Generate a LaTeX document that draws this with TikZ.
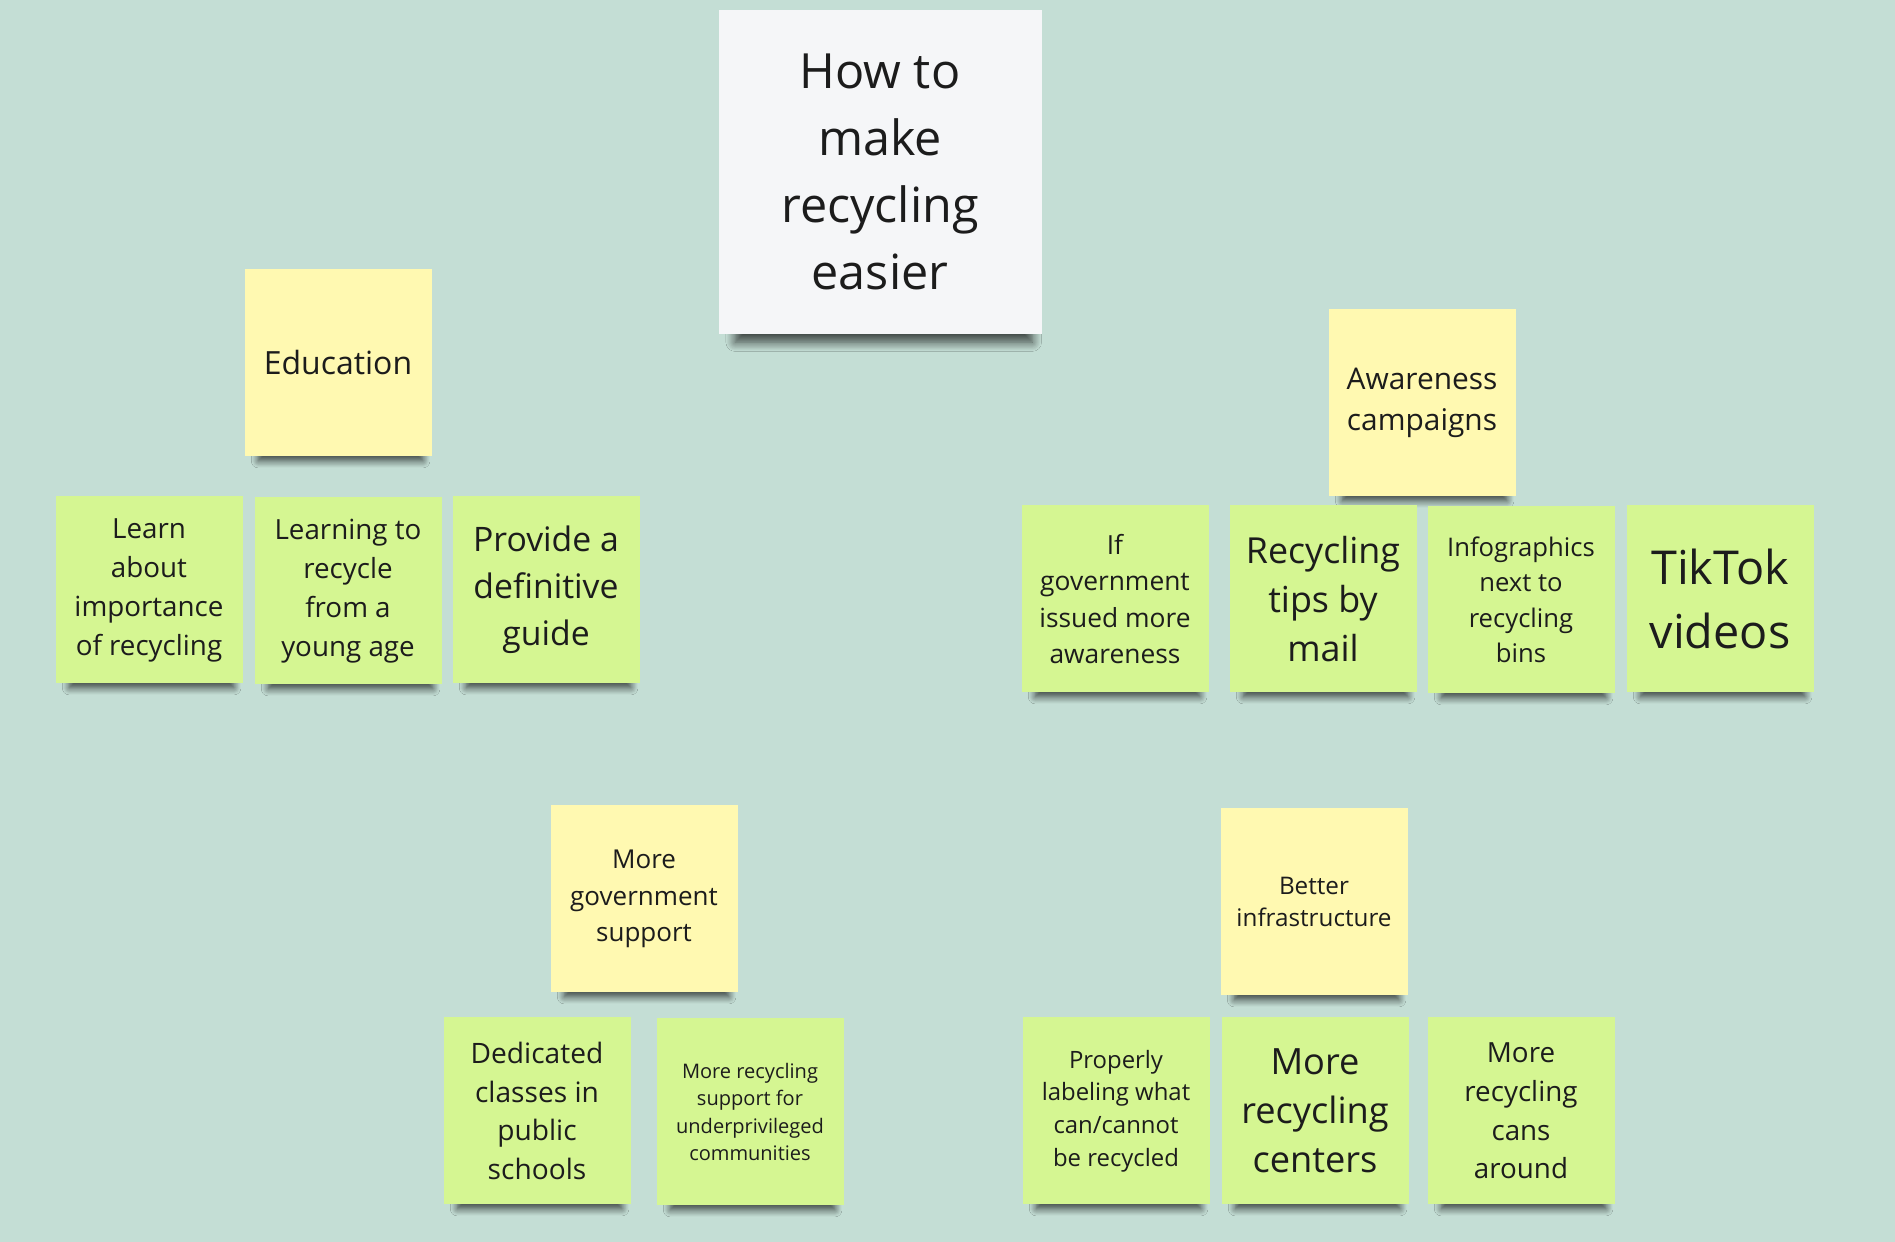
\documentclass[tikz,border=0pt]{standalone}
\usepackage{fontspec}
\setmainfont{Open Sans}
\usepackage{tikz}
\usetikzlibrary{shadows.blur}
\usepackage{xcolor}
\definecolor{bg}{HTML}{C4DED5}
\definecolor{paper}{HTML}{F5F6F8}
\definecolor{Y0}{HTML}{FFF9B1}
\definecolor{G0}{HTML}{D5F692}
\definecolor{ink}{HTML}{1C1C1C}
\newcommand{\notefont}[2]{\fontsize{#1}{#2}\selectfont}

\begin{document}
\begin{tikzpicture}

\def\side{1.87cm}
\tikzset{
note/.style = {minimum width=\side, minimum height=\side, inner sep=0pt, align=center, text=ink},
smallshadow/.style = {blur shadow={shadow xshift=0.03cm, shadow yshift=-0.177cm, shadow scale=0.88,
  shadow opacity=70, shadow blur radius=0.08cm, shadow blur steps=10}},
bigshadow/.style = {blur shadow={shadow xshift=0.04cm, shadow yshift=-0.23cm, shadow scale=0.92,
  shadow opacity=70, shadow blur radius=0.1cm, shadow blur steps=10}},
topic/.style = {note, smallshadow, fill=Y0},
idea/.style  = {note, smallshadow, fill=G0},
}

\fill[bg] (0,0) rectangle (18.95,-12.42);
\useasboundingbox (0,0) rectangle (18.95,-12.42);

\node (title) at (8.80,-1.72) [note, bigshadow, fill=paper, minimum width=3.23cm, minimum height=3.24cm,
  font=\notefont{13.8pt}{19.1pt}] {How to\\make\\recycling\\easier};

% education
\node (edu) at (3.38,-3.63) [topic, font=\notefont{9.1pt}{12pt}] {Education};
\node (learn) at (1.49,-5.90) [idea, font=\notefont{7.9pt}{11.1pt}] {Learn\\about\\importance\\of recycling};
\node (young) at (3.48,-5.91) [idea, font=\notefont{7.9pt}{11.1pt}] {Learning to\\recycle\\from a\\young age};
\node (guide) at (5.46,-5.90) [idea, font=\notefont{9.6pt}{13.4pt}] {Provide a\\definitive\\guide};

% awareness
\node (aware) at (14.22,-4.03) [topic, font=\notefont{8.5pt}{11.7pt}] {Awareness\\campaigns};
\node (gov) at (11.15,-5.99) [idea, font=\notefont{7.5pt}{10.3pt}] {If\\government\\issued more\\awareness};
\node (mail) at (13.23,-5.99) [idea, font=\notefont{10.2pt}{14pt}] {Recycling\\tips by\\mail};
\node (info) at (15.21,-6.00) [idea, font=\notefont{7.3pt}{10.1pt}] {Infographics\\next to\\recycling\\bins};
\node (tiktok) at (17.20,-5.99) [idea, font=\notefont{13.3pt}{18pt}] {TikTok\\videos};

% government
\node (support) at (6.44,-8.99) [topic, font=\notefont{7.4pt}{10.3pt}] {More\\government\\support};
\node (classes) at (5.37,-11.11) [idea, font=\notefont{8pt}{11pt}] {Dedicated\\classes in\\public\\schools};
\node (under) at (7.50,-11.12) [idea, font=\notefont{5.7pt}{7.8pt}] {More recycling\\support for\\underprivileged\\communities};

% infrastructure
\node (infra) at (13.14,-9.02) [topic, font=\notefont{6.9pt}{9.3pt}] {Better\\infrastructure};
\node (label) at (11.16,-11.11) [idea, font=\notefont{6.8pt}{9.3pt}] {Properly\\labeling what\\can/cannot\\be recycled};
\node (centers) at (13.15,-11.11) [idea, font=\notefont{10.3pt}{14pt}] {More\\recycling\\centers};
\node (cans) at (15.21,-11.11) [idea, font=\notefont{7.9pt}{11pt}] {More\\recycling\\cans\\around};

\end{tikzpicture}
\end{document}
